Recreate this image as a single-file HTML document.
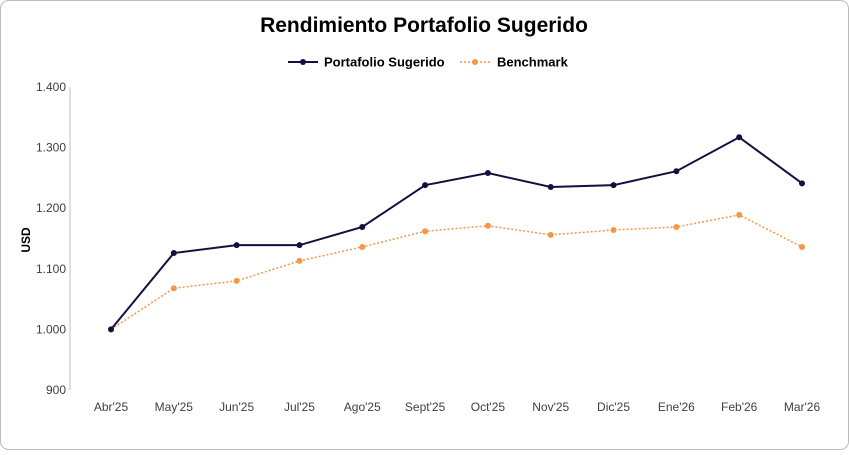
<!DOCTYPE html>
<html><head><meta charset="utf-8"><style>
body{margin:0;background:#fff;}
svg{font-family:"Liberation Sans",sans-serif;}
</style></head><body>
<svg id="c" width="849" height="450" xmlns="http://www.w3.org/2000/svg">
<rect x="0.5" y="0.5" width="848" height="449" rx="8" fill="#fff" stroke="#bbb"/>
<text x="424" y="32" text-anchor="middle" font-size="21" font-weight="bold" fill="#000">Rendimiento Portafolio Sugerido</text>
<g>
<line x1="288" y1="62" x2="318" y2="62" stroke="#14103e" stroke-width="2"/><circle cx="303" cy="62" r="3" fill="#14103e"/>
<text x="324" y="66.5" font-size="13" font-weight="bold">Portafolio Sugerido</text></g>
<g>
<line x1="460" y1="62" x2="490" y2="62" stroke="#f79646" stroke-width="1.5" stroke-dasharray="2,2"/><circle cx="475" cy="62" r="3" fill="#f79646"/>
<text x="497" y="66.5" font-size="13" font-weight="bold">Benchmark</text></g>
<text transform="translate(30,240) rotate(-90)" text-anchor="middle" font-size="12" font-weight="bold">USD</text>
<line x1="70" y1="87" x2="70" y2="390" stroke="#bfbfbf"/>
<g id="g"></g>
</svg>
<script>
const categories=["Abr'25","May'25","Jun'25","Jul'25","Ago'25","Sept'25","Oct'25","Nov'25","Dic'25","Ene'26","Feb'26","Mar'26"];
const portfolio=[1000,1126,1139,1139,1169,1238,1258,1235,1238,1261,1317,1241];
const benchmark=[1000,1068,1080,1113,1136,1162,1171,1156,1164,1169,1189,1136];
const yTicks=[900,1000,1100,1200,1300,1400];
const yTickLabels=["900","1.000","1.100","1.200","1.300","1.400"];
const NS="http://www.w3.org/2000/svg",g=document.getElementById('g');
const x=i=>111+i*(802-111)/(categories.length-1);
const y=v=>390-(v-900)*(303/500);
function mk(t,a){const e=document.createElementNS(NS,t);for(const k in a)e.setAttribute(k,a[k]);g.appendChild(e);return e;}
yTicks.forEach((v,i)=>{const t=mk('text',{x:66,y:y(v)+4,'text-anchor':'end','font-size':12,fill:'#404040'});t.textContent=yTickLabels[i];

});
categories.forEach((c,i)=>{const t=mk('text',{x:x(i),y:411,'text-anchor':'middle','font-size':12,fill:'#404040'});t.textContent=c;

});
function series(d,col,dash,w,name){
const p=mk('polyline',{points:d.map((v,i)=>x(i)+','+y(v)).join(' '),fill:'none',stroke:col,'stroke-width':w});
if(dash)p.setAttribute('stroke-dasharray',dash);


d.forEach((v,i)=>{const c=mk('circle',{cx:x(i),cy:y(v),r:3,fill:col});

});}
series(benchmark,'#f79646','2,2',1.5,'benchmark');
series(portfolio,'#14103e',null,2,'portfolio');
</script>
</body></html>
